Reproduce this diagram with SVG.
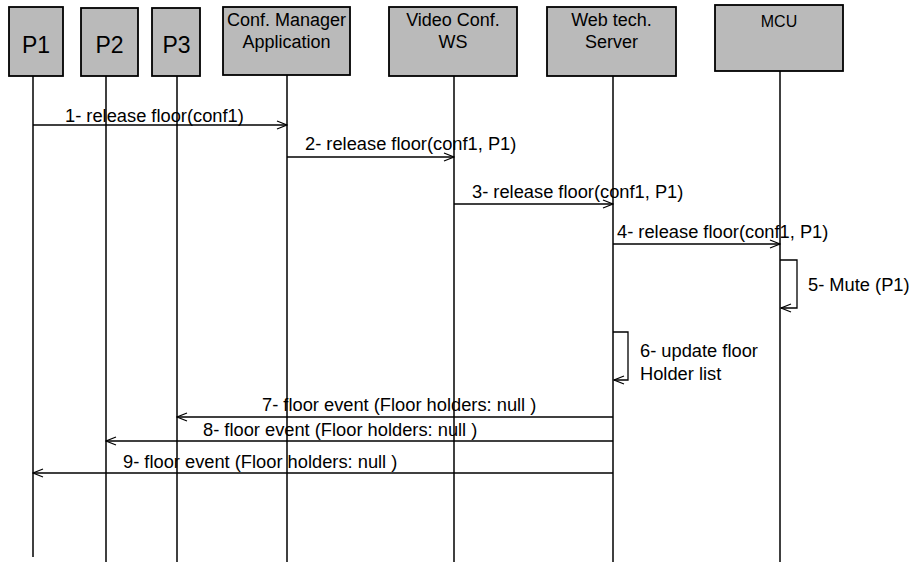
<svg xmlns="http://www.w3.org/2000/svg" width="914" height="562" viewBox="0 0 914 562">
<style>
.box{fill:#bababa;stroke:#000;stroke-width:1.8}
.life{stroke:#000;stroke-width:1.5;fill:none}
.msg{stroke:#000;stroke-width:1.3;fill:none;marker-end:url(#arr)}
.t{font-family:"Liberation Sans",Arial,sans-serif;fill:#000}
.bl{font-size:18px;text-anchor:middle}
.pl{font-size:23px;text-anchor:middle}
.ml{font-size:18.3px}
.mcu{font-size:16px;text-anchor:middle}
</style>
<defs>
<marker id="arr" markerUnits="userSpaceOnUse" viewBox="0 0 12 10" refX="11" refY="5" markerWidth="12" markerHeight="10" orient="auto">
<path d="M1,1 L11,5 L1,9" fill="none" stroke="#000" stroke-width="1.3"/>
</marker>
</defs>
<rect width="914" height="562" fill="#fff"/>
<g id="P1"><rect class="box" x="9" y="7" width="54" height="69"/><text class="t pl" x="36" y="53">P1</text><line class="life" x1="33" y1="76" x2="33" y2="557"/></g>
<g id="P2"><rect class="box" x="81" y="8" width="57" height="68"/><text class="t pl" x="109.5" y="53">P2</text><line class="life" x1="106" y1="76" x2="106" y2="562"/></g>
<g id="P3"><rect class="box" x="152" y="8" width="48" height="68"/><text class="t pl" x="176.5" y="53">P3</text><line class="life" x1="177" y1="76" x2="177" y2="562"/></g>
<g id="CM"><rect class="box" x="223" y="7" width="127" height="68"/><text class="t bl" x="286.5" y="26">Conf. Manager</text><text class="t bl" x="286.5" y="48">Application</text><line class="life" x1="287" y1="75" x2="287" y2="562"/></g>
<g id="VC"><rect class="box" x="389" y="7" width="128" height="69"/><text class="t bl" x="453" y="26">Video Conf.</text><text class="t bl" x="453" y="48">WS</text><line class="life" x1="454" y1="76" x2="454" y2="562"/></g>
<g id="WT"><rect class="box" x="547" y="7" width="129" height="69"/><text class="t bl" x="611.5" y="26">Web tech.</text><text class="t bl" x="611.5" y="48">Server</text><line class="life" x1="613" y1="76" x2="613" y2="562"/></g>
<g id="MCU"><rect class="box" x="715" y="5" width="128" height="66"/><text class="t mcu" x="779" y="27">MCU</text><line class="life" x1="780" y1="71" x2="780" y2="562"/></g>
<g id="connectors">
<line class="msg" x1="33" y1="125" x2="287" y2="125"/>
<text class="t ml" x="65" y="122">1- release floor(conf1)</text>
<line class="msg" x1="287" y1="157" x2="454" y2="157"/>
<text class="t ml" x="305" y="150">2- release floor(conf1, P1)</text>
<line class="msg" x1="454" y1="204" x2="613" y2="204"/>
<text class="t ml" x="472" y="198">3- release floor(conf1, P1)</text>
<line class="msg" x1="613" y1="244" x2="780" y2="244"/>
<text class="t ml" x="617" y="238">4- release floor(conf1, P1)</text>
<path class="msg" d="M780,260 H797 V308 H781"/>
<text class="t ml" x="808" y="291">5- Mute (P1)</text>
<path class="msg" d="M613,332 H628 V380 H614"/>
<text class="t ml" x="640" y="357">6- update floor</text>
<text class="t ml" x="640" y="380">Holder list</text>
<line class="msg" x1="613" y1="417" x2="177" y2="417"/>
<text class="t ml" x="262" y="411">7- floor event (Floor holders: null )</text>
<line class="msg" x1="613" y1="441" x2="106" y2="441"/>
<text class="t ml" x="203" y="436">8- floor event (Floor holders: null )</text>
<line class="msg" x1="613" y1="473" x2="33" y2="473"/>
<text class="t ml" x="123" y="468">9- floor event (Floor holders: null )</text>
</g>
</svg>
